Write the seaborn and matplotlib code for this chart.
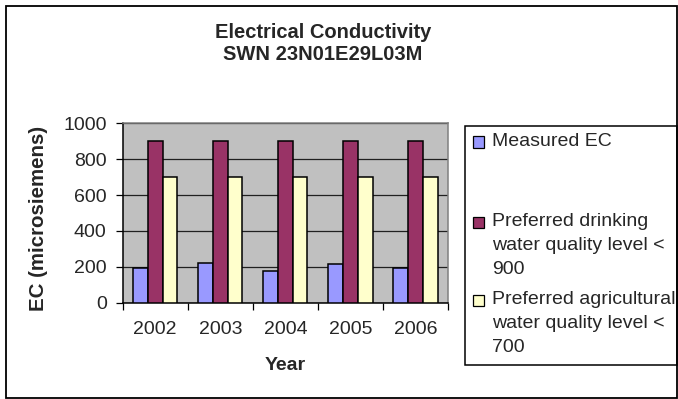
import matplotlib
matplotlib.use("Agg")
import matplotlib.pyplot as plt
from matplotlib.patches import Rectangle
import pandas as pd
import seaborn as sns

years = ["2002", "2003", "2004", "2005", "2006"]
measured_ec = [195, 220, 177, 214, 195]
drinking_level = [900, 900, 900, 900, 900]
agricultural_level = [700, 700, 700, 700, 700]

series_names = [
    "Measured EC",
    "Preferred drinking water quality level < 900",
    "Preferred agricultural water quality level < 700",
]
legend_lines = [
    ["Measured EC"],
    ["Preferred drinking", "water quality level <", "900"],
    ["Preferred agricultural", "water quality level <", "700"],
]
colors = ["#9999FF", "#993366", "#FFFFCC"]
y_ticks = [0, 200, 400, 600, 800, 1000]

df = pd.DataFrame({
    "Year": years * 3,
    "EC": measured_ec + drinking_level + agricultural_level,
    "Series": [s for s in series_names for _ in years],
})

sns.set_theme(style="white")
plt.rcParams["font.family"] = ["Liberation Sans", "DejaVu Sans"]

W, H = 678, 399
fig = plt.figure(figsize=(W / 100, H / 100), dpi=100)

def fx(px):
    return px / W

def fy(py):
    return 1 - py / H

# chart area border, hugging the right and bottom edges of the canvas
fig.patches.append(Rectangle((fx(6), fy(398)), fx(671), 392 / H,
                             transform=fig.transFigure, fill=False,
                             edgecolor="black", linewidth=1.3))

ax_left, ax_right, ax_top, ax_bottom = 122.7, 448, 123.3, 302.7
ax = fig.add_axes([fx(ax_left), fy(ax_bottom), fx(ax_right - ax_left),
                   (ax_bottom - ax_top) / H])
ax.set_facecolor("#C0C0C0")

sns.barplot(data=df, x="Year", y="EC", hue="Series", order=years,
            hue_order=series_names, palette=colors, width=0.68,
            edgecolor="black", linewidth=1.1, saturation=1, ax=ax,
            legend=False, zorder=3)

ax.set_ylim(0, 1000)
ax.set_xlim(-0.5, len(years) - 0.5)
ax.set_yticks(y_ticks)
ax.yaxis.grid(True, color="#202020", linewidth=0.9, zorder=0)
ax.set_axisbelow(True)
ax.tick_params(axis="y", length=5, width=0.9, color="black", pad=6.5,
               labelsize=14, left=True, direction="out")
ax.set_xticks(range(len(years)))
ax.set_xticklabels(years)
ax.set_xticks([i - 0.5 for i in range(len(years) + 1)], minor=True)
ax.tick_params(axis="x", which="major", length=0, pad=13, labelsize=14)
ax.tick_params(axis="x", which="minor", length=5, width=0.9,
               color="black", bottom=True, direction="out")
for side in ("left", "bottom"):
    ax.spines[side].set_color("black")
    ax.spines[side].set_linewidth(1.1)
for side in ("top", "right"):
    ax.spines[side].set_color("#808080")
    ax.spines[side].set_linewidth(1.1)

ax_h = ax_bottom - ax_top
ax_w = ax_right - ax_left
ax.set_xlabel("Year", fontsize=14, fontweight="bold")
ax.xaxis.set_label_coords((285 - ax_left) / ax_w, (ax_bottom - 366) / ax_h)
ax.xaxis.label.set_verticalalignment("center")
ax.set_ylabel("EC (microsiemens)", fontsize=14.8, fontweight="bold")
ax.yaxis.set_label_coords((38.5 - ax_left) / ax_w, (ax_bottom - 218) / ax_h)
ax.yaxis.label.set_verticalalignment("center")

fig.text(fx(323), fy(32), "Electrical Conductivity", ha="center",
         va="center", fontsize=14.5, fontweight="bold")
fig.text(fx(323), fy(55), "SWN 23N01E29L03M", ha="center",
         va="center", fontsize=14.5, fontweight="bold")

# legend box, reaching the right edge of the chart area
fig.patches.append(Rectangle((fx(465), fy(365)), fx(212), (365 - 126) / H,
                             transform=fig.transFigure, fill=False,
                             edgecolor="black", linewidth=1.1))
entry_tops = [142, 222, 300]
line_pitch = 23.5
for color, lines, top in zip(colors, legend_lines, entry_tops):
    fig.patches.append(Rectangle((fx(473), fy(top + 5.5)), fx(11), 11 / H,
                                 transform=fig.transFigure,
                                 facecolor=color, edgecolor="black",
                                 linewidth=0.9))
    for i, line in enumerate(lines):
        fig.text(fx(492), fy(top + i * line_pitch), line, ha="left",
                 va="center", fontsize=14)

fig.savefig("out.png", dpi=100)
